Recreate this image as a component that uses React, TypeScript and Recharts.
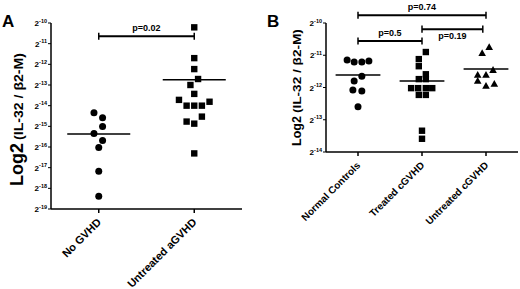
import { ScatterChart, Scatter, XAxis, YAxis, ReferenceLine } from 'recharts';

// panel A: log2 exponent values
const categoriesA = ['No GVHD', 'Untreated aGVHD'];
const noGvhd = [-14.34, -14.58, -15.01, -15.35, -15.69, -16.02, -17.17, -18.38];
const noGvhdSpread = [-0.05, 0.04, 0.04, -0.05, 0.04, 0, 0, 0];
const untreatedAgvhd = [-10.21, -11.7, -12.23, -12.71, -13.0, -13.43, -13.72, -13.81, -14.0, -14.0, -14.0, -14.53, -14.77, -14.87, -16.31];
const untreatedAgvhdSpread = [0, 0, 0, 0.04, -0.04, 0, -0.16, 0.16, -0.08, 0, 0.08, 0.08, -0.08, 0, 0];
const mediansA = [-15.37, -12.75];
const yTicksA = [-10, -11, -12, -13, -14, -15, -16, -17, -18, -19];
const comparisonsA = [{ from: 0, to: 1, level: -10.64, p: 'p=0.02', side: 'top' }];

// panel B
const categoriesB = ['Normal Controls', 'Treated cGVHD', 'Untreated cGVHD'];
const normalControls = [-11.15, -11.21, -11.21, -11.18, -11.65, -11.8, -12.08, -12.11, -12.6];
const normalControlsSpread = [-0.17, -0.06, 0.06, 0.17, 0.06, -0.06, -0.08, 0.06, 0];
const treatedCgvhd = [-10.9, -11.12, -11.34, -11.59, -11.74, -11.74, -12.02, -12.02, -12.02, -12.02, -12.23, -12.23, -13.34, -13.59];
const treatedCgvhdSpread = [0.06, -0.05, -0.05, 0.06, -0.05, 0.06, -0.17, -0.06, 0.06, 0.16, -0.05, 0.06, 0, 0];
const untreatedCgvhd = [-10.75, -10.94, -11.46, -11.61, -11.61, -11.8, -11.89, -11.95];
const untreatedCgvhdSpread = [0.05, -0.06, 0.11, -0.13, 0, -0.13, 0.13, 0];
const mediansB = [-11.61, -11.8, -11.43];
const yTicksB = [-10, -11, -12, -13, -14];
const comparisonsB = [
  { from: 0, to: 2, level: -9.76, p: 'p=0.74', side: 'top' },
  { from: 0, to: 1, level: -10.56, p: 'p=0.5', side: 'top' },
  { from: 1, to: 1.95, level: -10.19, p: 'p=0.19', side: 'bottom' },
];

const FONT = '"Liberation Sans", Arial, sans-serif';

const toPoints = (vals: number[], spread: number[], idx: number) =>
  vals.map((v, k) => ({ x: idx + spread[k], y: v }));

const Dot = (p: any) => <circle cx={p.cx} cy={p.cy} r={3.5} fill="#000" />;
const Box = (p: any) => <rect x={p.cx - 3.2} y={p.cy - 3.2} width={6.4} height={6.4} fill="#000" />;
const Tri = (p: any) => (
  <path d={`M${p.cx},${p.cy - 4}L${p.cx + 3.8},${p.cy + 2.8}L${p.cx - 3.8},${p.cy + 2.8}Z`} fill="#000" />
);

function PowerTick({ x, y, payload }: any) {
  return (
    <text x={x} y={y + 3} textAnchor="end" fontFamily={FONT} fontWeight="bold" fill="#000">
      <tspan fontSize={8}>2</tspan>
      <tspan fontSize={5.5} dy={-3.5}>{payload.value}</tspan>
    </text>
  );
}

function CategoryTick({ x, y, payload, names, fs }: any) {
  const name = names[Math.round(payload.value)];
  return (
    <g transform={`translate(${x + 3},${y + 10})`}>
      <text transform="rotate(-45)" textAnchor="end" fontSize={fs} fontWeight="bold" fontFamily={FONT} fill="#000">
        {name}
      </text>
    </g>
  );
}

function AxisTitle({ letter, lx, ly, bx, end, logSize, parSize, parLen }: any) {
  const logLen = logSize * 2.39;
  const parEnd = end - logLen - 3;
  return (
    <g fontFamily={FONT} fontWeight="bold" fill="#000">
      <text x={lx} y={ly} fontSize={17}>{letter}</text>
      <text x={bx} y={end} transform={`rotate(-90, ${bx}, ${end})`} fontSize={logSize}>Log2</text>
      <text
        x={bx}
        y={parEnd}
        transform={`rotate(-90, ${bx}, ${parEnd})`}
        fontSize={parSize}
        textLength={parLen}
        lengthAdjust="spacingAndGlyphs"
      >
        (IL-32 / β2-M)
      </text>
    </g>
  );
}

function brackets(list: any[], cap: number) {
  const out: any[] = [];
  list.forEach((c, i) => {
    out.push(
      <ReferenceLine
        key={`b${i}`}
        segment={[{ x: c.from, y: c.level }, { x: c.to, y: c.level }]}
        stroke="#000"
        strokeWidth={2}
        ifOverflow="visible"
        label={{ value: c.p, position: c.side, offset: c.side === 'top' ? 5 : 3, fill: '#000', fontSize: 9, fontWeight: 'bold', fontFamily: FONT }}
      />
    );
    [c.from, c.to].forEach((px, j) =>
      out.push(
        <ReferenceLine
          key={`c${i}-${j}`}
          segment={[{ x: px, y: c.level - cap }, { x: px, y: c.level + cap }]}
          stroke="#000"
          strokeWidth={1.5}
          ifOverflow="visible"
        />
      )
    );
  });
  return out;
}

function medians(list: number[], half: number) {
  return list.map((m, i) => (
    <ReferenceLine
      key={`m${i}`}
      segment={[{ x: i - half, y: m }, { x: i + half, y: m }]}
      stroke="#000"
      strokeWidth={1.5}
      ifOverflow="visible"
    />
  ));
}

function PanelA() {
  return (
    <ScatterChart width={260} height={289} margin={{ top: 23, right: 18, bottom: 0, left: 0 }}>
      <XAxis
        type="number"
        dataKey="x"
        domain={[-0.5, 1.5]}
        ticks={[0, 1]}
        height={80}
        tickSize={4}
        tickMargin={0}
        axisLine={{ stroke: '#000', strokeWidth: 1.5 }}
        tickLine={{ stroke: '#000', strokeWidth: 1.5 }}
        tick={<CategoryTick names={categoriesA} fs={11} />}
      />
      <YAxis
        type="number"
        dataKey="y"
        domain={[-19, -10]}
        ticks={yTicksA}
        interval={0}
        width={51}
        tickSize={3}
        tickMargin={1}
        axisLine={{ stroke: '#000', strokeWidth: 1.5 }}
        tickLine={{ stroke: '#000' }}
        tick={<PowerTick />}
        label={<AxisTitle letter="A" lx={2} ly={27} bx={23} end={186} logSize={18} parSize={13} parLen={87} />}
      />
      <Scatter data={toPoints(noGvhd, noGvhdSpread, 0)} shape={Dot} isAnimationActive={false} />
      <Scatter data={toPoints(untreatedAgvhd, untreatedAgvhdSpread, 1)} shape={Box} isAnimationActive={false} />
      {medians(mediansA, 0.33)}
      {brackets(comparisonsA, 0.17)}
    </ScatterChart>
  );
}

function PanelB() {
  return (
    <ScatterChart width={260} height={289} margin={{ top: 23, right: 2, bottom: 0, left: 0 }}>
      <XAxis
        type="number"
        dataKey="x"
        domain={[-0.5, 2.5]}
        ticks={[0, 1, 2]}
        height={137}
        tickSize={4}
        tickMargin={0}
        axisLine={{ stroke: '#000', strokeWidth: 1.5 }}
        tickLine={{ stroke: '#000', strokeWidth: 1.5 }}
        tick={<CategoryTick names={categoriesB} fs={10} />}
      />
      <YAxis
        type="number"
        dataKey="y"
        domain={[-14, -10]}
        ticks={yTicksB}
        interval={0}
        width={66}
        tickSize={3}
        tickMargin={1}
        axisLine={{ stroke: '#000', strokeWidth: 1.5 }}
        tickLine={{ stroke: '#000' }}
        tick={<PowerTick />}
        label={<AxisTitle letter="B" lx={7} ly={27} bx={41} end={146} logSize={12.5} parSize={11} parLen={84} />}
      />
      <Scatter data={toPoints(normalControls, normalControlsSpread, 0)} shape={Dot} isAnimationActive={false} />
      <Scatter data={toPoints(treatedCgvhd, treatedCgvhdSpread, 1)} shape={Box} isAnimationActive={false} />
      <Scatter data={toPoints(untreatedCgvhd, untreatedCgvhdSpread, 2)} shape={Tri} isAnimationActive={false} />
      {medians(mediansB, 0.35)}
      {brackets(comparisonsB, 0.11)}
    </ScatterChart>
  );
}

export default function App() {
  return (
    <div style={{ position: 'absolute', left: 0, top: 0, width: 520, height: 289, background: '#fff', fontFamily: FONT }}>
      <div style={{ position: 'absolute', left: 0, top: 0 }}>
        <PanelA />
      </div>
      <div style={{ position: 'absolute', left: 260, top: 0 }}>
        <PanelB />
      </div>
    </div>
  );
}
